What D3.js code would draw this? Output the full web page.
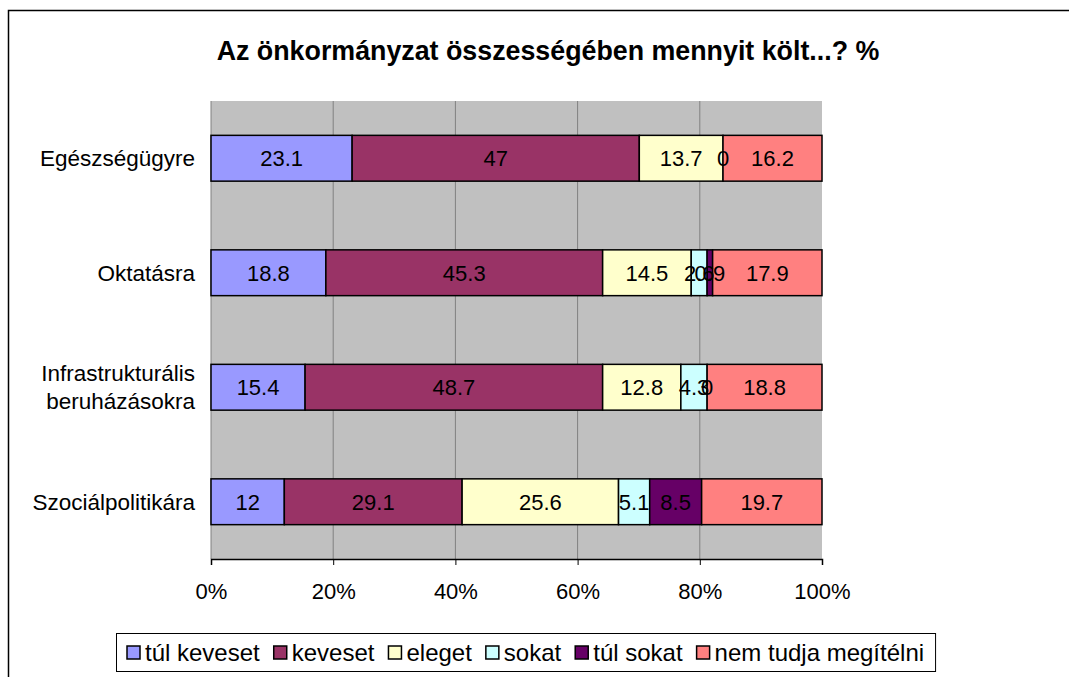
<!DOCTYPE html>
<html>
<head>
<meta charset="utf-8">
<script src="https://cdn.jsdelivr.net/npm/d3@7"></script>
<style>
  body { margin: 0; background: #fff; }
  text { font-family: "Liberation Sans", Arial, sans-serif; fill: #000; }
</style>
</head>
<body>
<div id="chart"></div>
<script>
var w = 1069;
var h = 677;

// categories (top to bottom) and the stacked series
var categories = ["Egészségügyre", "Oktatásra", "Infrastrukturális beruházásokra", "Szociálpolitikára"];
var seriesNames = ["túl keveset", "keveset", "eleget", "sokat", "túl sokat", "nem tudja megítélni"];
var seriesColors = ["#9999ff", "#993366", "#ffffcc", "#ccffff", "#660066", "#ff8080"];

var tulKeveset = [23.1, 18.8, 15.4, 12];
var keveset = [47, 45.3, 48.7, 29.1];
var eleget = [13.7, 14.5, 12.8, 25.6];
var sokat = [0, 2.6, 4.3, 5.1];
var tulSokat = [null, 0.9, 0, 8.5];
var nemTudja = [16.2, 17.9, 18.8, 19.7];

var xTicks = [0, 20, 40, 60, 80, 100];

var allSeries = [tulKeveset, keveset, eleget, sokat, tulSokat, nemTudja];

// building rows for d3.stack
var rows = categories.map(function (c, i) {
    var r = { cat: c };
    seriesNames.forEach(function (s, j) {
        r[s] = allSeries[j][i] == null ? 0 : allSeries[j][i];
    });
    return r;
});

var svg = d3.select("#chart").append("svg")
    .attr("width", w)
    .attr("height", h);

// outer frame (only top + left visible in the picture)
svg.append("rect")
    .attr("x", 8.5).attr("y", 10.5)
    .attr("width", 1100).attr("height", 700)
    .attr("fill", "none").attr("stroke", "#000").attr("stroke-width", 1.5);

svg.append("text")
    .attr("x", 548).attr("y", 60)
    .attr("text-anchor", "middle")
    .style("font-size", "26.8px").style("font-weight", "bold")
    .text("Az önkormányzat összességében mennyit költ...? %");

var plot = { left: 211, top: 101, right: 822, bottom: 559 };

var x = d3.scaleLinear().domain([0, 100]).range([plot.left, plot.right]);
var y = d3.scaleBand().domain(categories).range([plot.top, plot.bottom]).paddingInner(0.6).paddingOuter(0.3);

svg.append("rect")
    .attr("x", plot.left).attr("y", plot.top)
    .attr("width", plot.right - plot.left).attr("height", plot.bottom - plot.top)
    .attr("fill", "#c0c0c0");

// gridlines
svg.append("g").selectAll("line")
    .data(xTicks.slice(1, -1))
    .enter().append("line")
    .attr("x1", d => x(d)).attr("x2", d => x(d))
    .attr("y1", plot.top).attr("y2", plot.bottom)
    .attr("stroke", "#808080").attr("stroke-width", 1);

svg.append("line")
    .attr("x1", plot.left).attr("x2", plot.left)
    .attr("y1", plot.top).attr("y2", plot.bottom)
    .attr("stroke", "#808080");

// x axis
var xAxis = d3.axisBottom(x).tickValues(xTicks).tickFormat(d => d + "%").tickSize(6).tickPadding(18);
var gx = svg.append("g").attr("transform", "translate(0," + plot.bottom + ")").call(xAxis);
gx.select(".domain").attr("stroke", "#000").attr("stroke-width", 1.5);
gx.selectAll(".tick line").attr("stroke", "#000");
gx.selectAll("text").style("font-size", "22px").attr("font-family", null);

var stack = d3.stack().keys(seriesNames);
var layers = stack(rows);

var g = svg.append("g");
layers.forEach(function (layer, j) {
    g.selectAll(".s" + j)
        .data(layer)
        .enter().append("rect")
        .attr("x", d => x(d[0]))
        .attr("y", d => y(d.data.cat))
        .attr("width", d => x(d[1]) - x(d[0]))
        .attr("height", y.bandwidth())
        .attr("fill", seriesColors[j])
        .attr("stroke", "#000").attr("stroke-width", 1.5);
});

// value labels (small segments overlap, same as the original)
layers.forEach(function (layer, j) {
    layer.forEach(function (d, i) {
        var v = allSeries[j][i];
        if (v == null) return;
        svg.append("text")
            .attr("x", (x(d[0]) + x(d[1])) / 2)
            .attr("y", y(d.data.cat) + y.bandwidth() / 2 + 8)
            .attr("text-anchor", "middle")
            .style("font-size", "22px")
            .text(v);
    });
});

// category labels
categories.forEach(function (c) {
    var cy = y(c) + y.bandwidth() / 2;
    var lines = c === "Infrastrukturális beruházásokra" ? ["Infrastrukturális", "beruházásokra"] : [c];
    var t = svg.append("text")
        .attr("text-anchor", "end")
        .style("font-size", "22.5px");
    lines.forEach(function (l, k) {
        t.append("tspan")
            .attr("x", 195)
            .attr("y", cy + 8 + (k - (lines.length - 1) / 2) * 28)
            .text(l);
    });
});

// legend
var legendBox = svg.append("rect")
    .attr("x", 116.5).attr("y", 633.5)
    .attr("height", 38)
    .attr("fill", "#fff").attr("stroke", "#000").attr("stroke-width", 1);
var legend = svg.append("g");
var lx = 127, ly = 653;
seriesNames.forEach(function (s, j) {
    var it = legend.append("g").attr("transform", "translate(" + lx + "," + ly + ")");
    it.append("rect").attr("x", 0).attr("y", -7).attr("width", 13).attr("height", 13)
        .attr("fill", seriesColors[j]).attr("stroke", "#000").attr("stroke-width", 1.5);
    var t = it.append("text").attr("x", 18).attr("y", 8).style("font-size", "24px").text(s);
    lx += 18 + t.node().getComputedTextLength() + 14;
});
legendBox.attr("width", lx - 116 - 3);
</script>
</body>
</html>
